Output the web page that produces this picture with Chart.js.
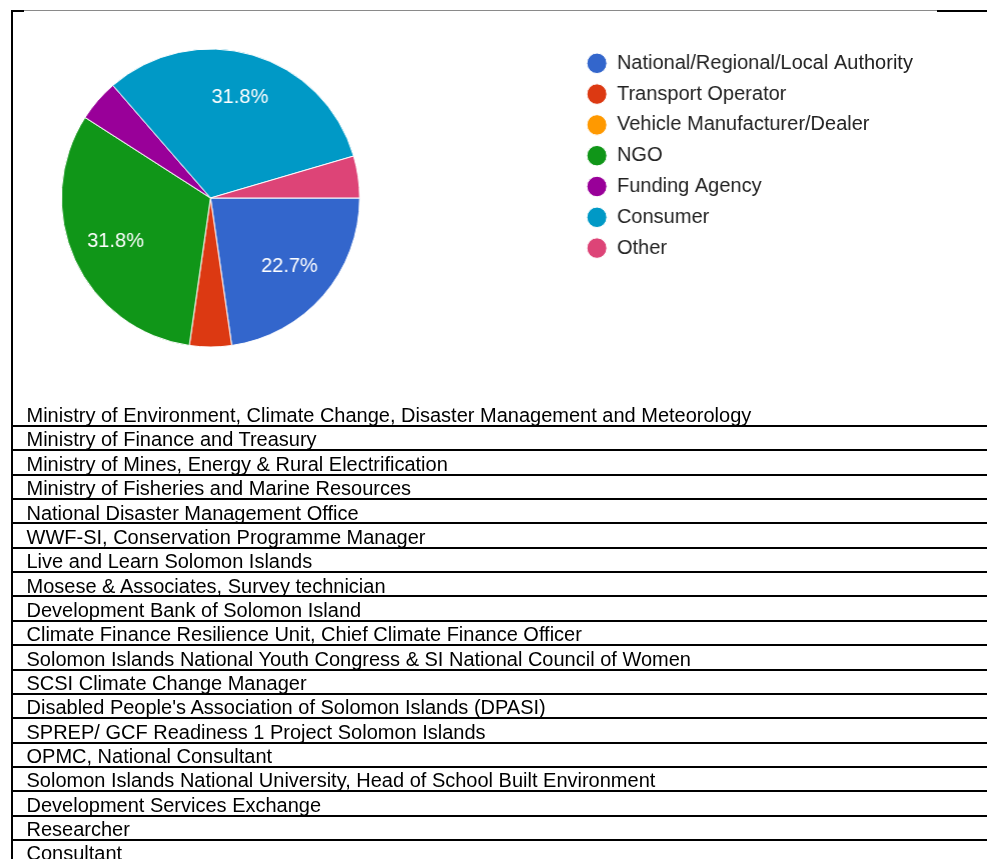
<!DOCTYPE html>
<html>
<head>
<meta charset="utf-8">
<script src="https://cdn.jsdelivr.net/npm/chart.js@4.4.1/dist/chart.umd.min.js"></script>
<style>
  html, body { margin: 0; padding: 0; background: #fff; overflow: hidden; width: 987px; height: 859px; }
  #page { position: relative; width: 987px; height: 859px; overflow: hidden; }
  .hl { position: absolute; background: #000; }
  .row { position: absolute; left: 26.5px; white-space: nowrap; font-family: "Liberation Sans", Arial, sans-serif; font-size: 20px; line-height: 20px; color: #000; }
  #chartBox { position: absolute; top: 0; height: 360px; }
</style>
</head>
<body>
<div id="page">
  <div id="chartBox"><canvas id="pie"></canvas></div>
</div>
<script>
// ---- data ----
const categories = [
  "National/Regional/Local Authority",
  "Transport Operator",
  "Vehicle Manufacturer/Dealer",
  "NGO",
  "Funding Agency",
  "Consumer",
  "Other"
];
const counts = [5, 1, 0, 7, 1, 7, 1];
const sliceColors = ["#3366cc", "#dc3912", "#ff9900", "#109618", "#990099", "#0099c6", "#dd4477"];
const respondents = [
  "Ministry of Environment, Climate Change, Disaster Management and Meteorology",
  "Ministry of Finance and Treasury",
  "Ministry of Mines, Energy & Rural Electrification",
  "Ministry of Fisheries and Marine Resources",
  "National Disaster Management Office",
  "WWF-SI, Conservation Programme Manager",
  "Live and Learn Solomon Islands",
  "Mosese & Associates, Survey technician",
  "Development Bank of Solomon Island",
  "Climate Finance Resilience Unit, Chief Climate Finance Officer",
  "Solomon Islands National Youth Congress & SI National Council of Women",
  "SCSI Climate Change Manager",
  "Disabled People's Association of Solomon Islands (DPASI)",
  "SPREP/ GCF Readiness 1 Project Solomon Islands",
  "OPMC, National Consultant",
  "Solomon Islands National University, Head of School Built Environment",
  "Development Services Exchange",
  "Researcher",
  "Consultant"
];

// ---- table / frame ----
const page = document.getElementById('page');
function addLine(l, t, w, h, color) {
  const d = document.createElement('div');
  d.className = 'hl';
  d.style.left = l + 'px'; d.style.top = t + 'px';
  d.style.width = w + 'px'; d.style.height = h + 'px';
  if (color) d.style.background = color;
  page.appendChild(d);
}
addLine(11, 10, 2, 849);            // left border
addLine(11, 10, 13, 2);             // top-left black
addLine(24, 10, 913, 1, '#8a8a8a'); // top gray
addLine(937, 10, 50, 2);            // top-right black
const ROW_H = 24.35;
respondents.forEach((txt, i) => {
  const lineTop = 425 + ROW_H * i;
  addLine(11, lineTop, 976, 2);
  const r = document.createElement('div');
  r.className = 'row';
  r.textContent = txt;
  r.style.top = (lineTop - 3 - 16.9) + 'px';
  page.appendChild(r);
});

// ---- pie chart ----
const LEGEND_FONT = 20;
const LEGEND_PAD = 10.8;
const BOX_W = 20;
const pieCenterX = 210;
const legendX = 586;
const mctx = document.createElement('canvas').getContext('2d');
mctx.font = LEGEND_FONT + 'px "Liberation Sans", Arial, sans-serif';
const maxText = Math.max(...categories.map(c => mctx.measureText(c).width));
const legendWidth = LEGEND_PAD + BOX_W + LEGEND_FONT / 2 + maxText + 10;
const offsetL = (legendX - LEGEND_PAD) - 2 * pieCenterX; // canvas shift so pie centers at 210
const legendLeftCanvas = legendX - LEGEND_PAD + offsetL;
const canvasW = legendLeftCanvas + legendWidth + 4;
const box = document.getElementById('chartBox');
box.style.left = (-offsetL) + 'px';
box.style.width = canvasW + 'px';

const sliceLabels = {
  id: 'sliceLabels',
  afterDatasetsDraw(chart) {
    const ctx = chart.ctx;
    const meta = chart.getDatasetMeta(0);
    const data = chart.data.datasets[0].data;
    const total = data.reduce((a, b) => a + b, 0);
    ctx.save();
    ctx.font = '20px "Liberation Sans", Arial, sans-serif';
    ctx.fillStyle = '#ffffff';
    ctx.textAlign = 'center';
    ctx.textBaseline = 'middle';
    meta.data.forEach((arc, i) => {
      const v = data[i];
      if (v / total < 0.1) return;
      const p = arc.getProps(['x', 'y', 'startAngle', 'endAngle', 'outerRadius'], true);
      const mid = (p.startAngle + p.endAngle) / 2;
      const r = p.outerRadius * 0.7;
      ctx.fillText((v / total * 100).toFixed(1) + '%', p.x + Math.cos(mid) * r, p.y + Math.sin(mid) * r);
    });
    ctx.restore();
  }
};

Chart.defaults.font.family = '"Liberation Sans", Arial, sans-serif';
new Chart(document.getElementById('pie'), {
  type: 'pie',
  data: {
    labels: categories,
    datasets: [{
      data: counts,
      backgroundColor: sliceColors,
      borderColor: '#ffffff',
      borderWidth: 1,
      radius: 149
    }]
  },
  options: {
    responsive: true,
    maintainAspectRatio: false,
    animation: false,
    rotation: 90,
    layout: { padding: { top: 42.5, bottom: 6.5, left: 0, right: 4 } },
    plugins: {
      tooltip: { enabled: false },
      legend: {
        position: 'right',
        align: 'start',
        labels: {
          color: '#222222',
          font: { size: LEGEND_FONT },
          padding: LEGEND_PAD,
          usePointStyle: true,
          pointStyle: 'circle',
          pointStyleWidth: BOX_W,
          boxHeight: 14.5
        }
      }
    }
  },
  plugins: [sliceLabels]
});
</script>
</body>
</html>
